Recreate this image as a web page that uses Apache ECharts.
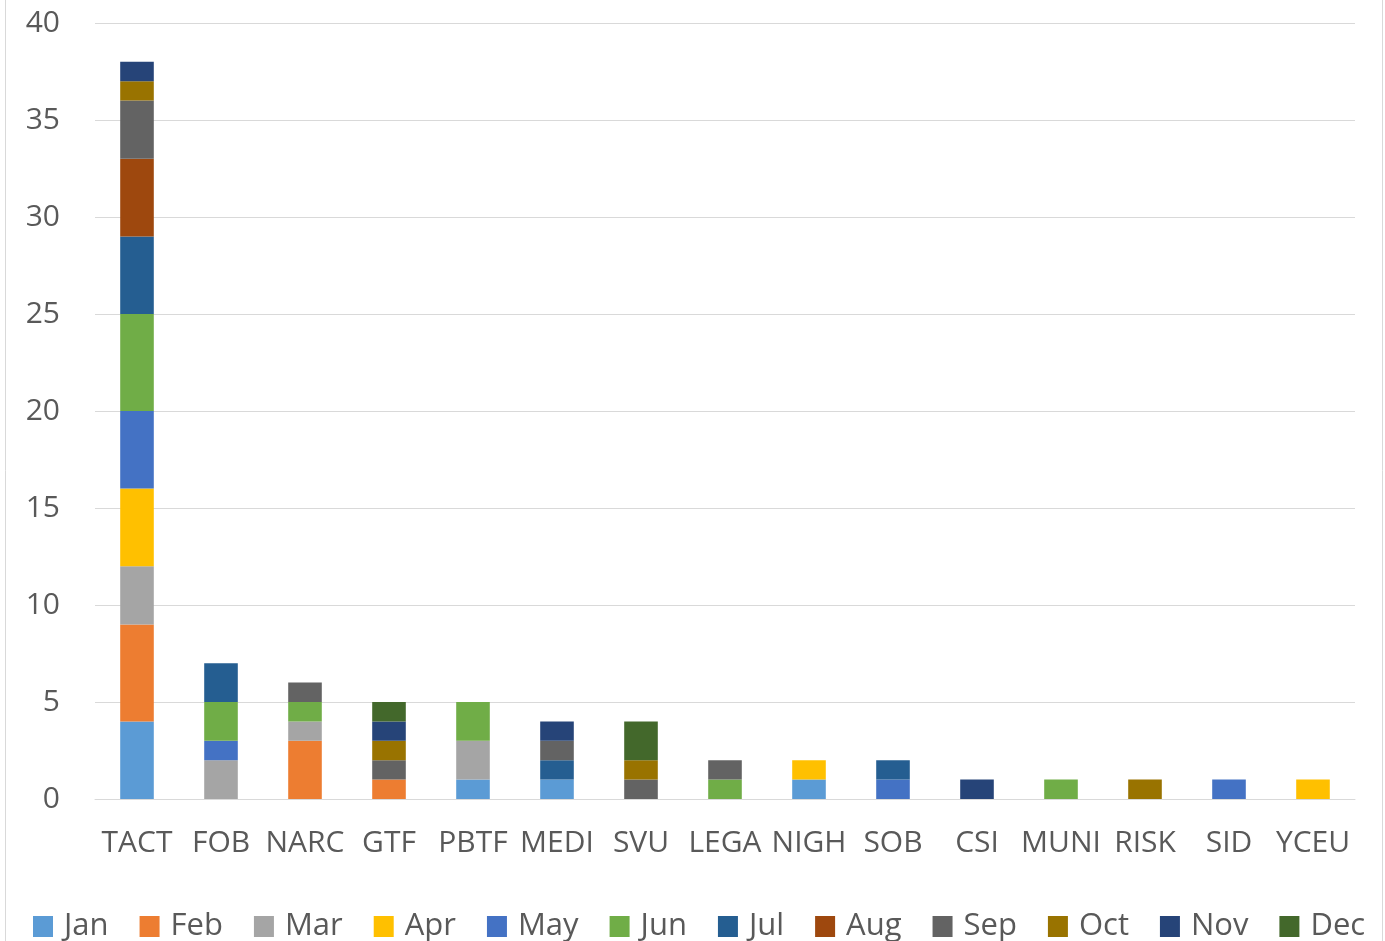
<!DOCTYPE html>
<html>
<head>
<meta charset="utf-8">
<title>Stacked columns</title>
<script src="https://cdn.jsdelivr.net/npm/echarts@6/dist/echarts.min.js"></script>
<style>
  html, body { margin: 0; padding: 0; background: #fff; }
  #chart { width: 1385px; height: 941px; }
</style>
</head>
<body>
<div id="chart"></div>
<script>
// categories along the x axis
var categories = ['TACT', 'FOB', 'NARC', 'GTF', 'PBTF', 'MEDI', 'SVU', 'LEGA', 'NIGH', 'SOB', 'CSI', 'MUNI', 'RISK', 'SID', 'YCEU'];

// counts per month, one value per category
var jan = [4, 0, 0, 0, 1, 1, 0, 0, 1, 0, 0, 0, 0, 0, 0];
var feb = [5, 0, 3, 1, 0, 0, 0, 0, 0, 0, 0, 0, 0, 0, 0];
var mar = [3, 2, 1, 0, 2, 0, 0, 0, 0, 0, 0, 0, 0, 0, 0];
var apr = [4, 0, 0, 0, 0, 0, 0, 0, 1, 0, 0, 0, 0, 0, 1];
var may = [4, 1, 0, 0, 0, 0, 0, 0, 0, 1, 0, 0, 0, 1, 0];
var jun = [5, 2, 1, 0, 2, 0, 0, 1, 0, 0, 0, 1, 0, 0, 0];
var jul = [4, 2, 0, 0, 0, 1, 0, 0, 0, 1, 0, 0, 0, 0, 0];
var aug = [4, 0, 0, 0, 0, 0, 0, 0, 0, 0, 0, 0, 0, 0, 0];
var sep = [3, 0, 1, 1, 0, 1, 1, 1, 0, 0, 0, 0, 0, 0, 0];
var oct = [1, 0, 0, 1, 0, 0, 1, 0, 0, 0, 0, 0, 1, 0, 0];
var nov = [1, 0, 0, 1, 0, 1, 0, 0, 0, 0, 1, 0, 0, 0, 0];
var dec = [0, 0, 0, 1, 0, 0, 2, 0, 0, 0, 0, 0, 0, 0, 0];

var months = ['Jan', 'Feb', 'Mar', 'Apr', 'May', 'Jun', 'Jul', 'Aug', 'Sep', 'Oct', 'Nov', 'Dec'];
var monthData = [jan, feb, mar, apr, may, jun, jul, aug, sep, oct, nov, dec];
var colors = ['#5B9BD5', '#ED7D31', '#A5A5A5', '#FFC000', '#4472C4', '#70AD47',
              '#255E91', '#9E480E', '#636363', '#997300', '#264478', '#43682B'];

var textColor = '#595959';
var fontName = '"Open Sans", "Noto Sans", sans-serif';

var series = months.map(function (m, i) {
  return {
    name: m,
    type: 'bar',
    stack: 'total',
    barWidth: '40%',
    data: monthData[i],
    itemStyle: { color: colors[i] }
  };
});

var myChart = echarts.init(document.getElementById('chart'));
var option = {
  animation: false,
  backgroundColor: '#fff',
  textStyle: { fontFamily: fontName },
  color: colors,
  graphic: [{
    type: 'rect',
    shape: { x: 5.5, y: -2, width: 1377, height: 960 },
    style: { fill: 'none', stroke: '#D9D9D9', lineWidth: 1 },
    silent: true
  }],
  grid: { left: 95, right: 30, top: 23, bottom: 142, containLabel: false },
  legend: {
    data: months,
    left: 33,
    top: 911,
    padding: 0,
    itemWidth: 20,
    itemHeight: 21,
    itemGap: 31,
    icon: 'rect',
    textStyle: { color: textColor, fontSize: 31, fontFamily: fontName, padding: [0, 0, 0, 6] }
  },
  xAxis: {
    type: 'category',
    data: categories,
    axisLine: { lineStyle: { color: '#D9D9D9', width: 1 } },
    axisTick: { show: false },
    axisLabel: { color: textColor, fontSize: 30, margin: 29, interval: 0 }
  },
  yAxis: {
    type: 'value',
    min: 0,
    max: 40,
    interval: 5,
    axisLine: { show: false },
    axisTick: { show: false },
    splitLine: { lineStyle: { color: '#D9D9D9', width: 1 } },
    axisLabel: { color: textColor, fontSize: 30, margin: 35, padding: [6, 0, 0, 0] }
  },
  series: series
};
myChart.setOption(option);
</script>
</body>
</html>
